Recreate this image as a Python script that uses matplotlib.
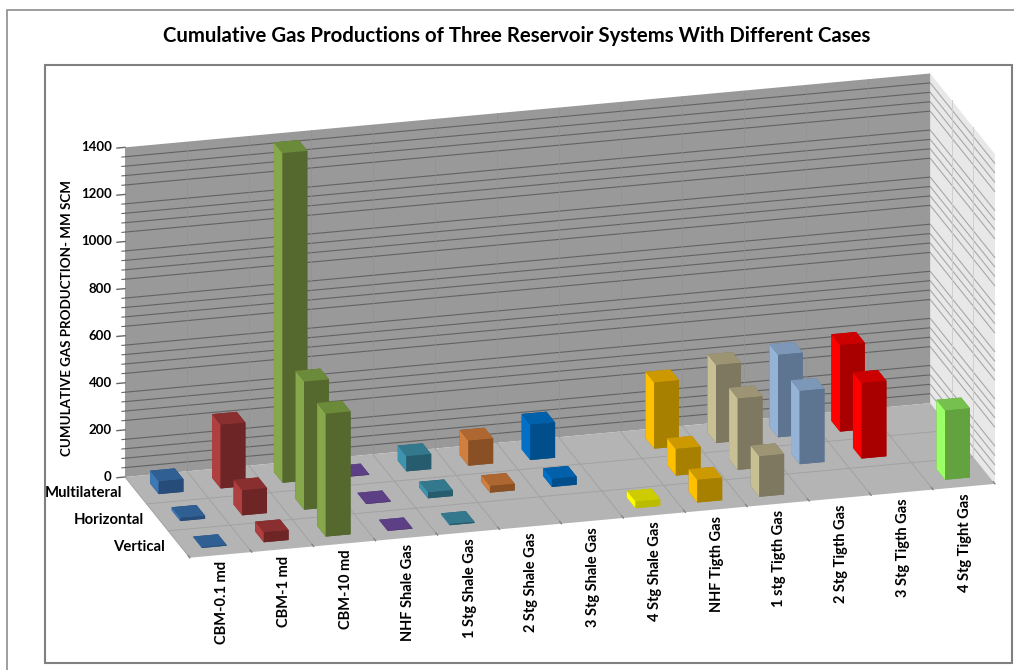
import matplotlib
matplotlib.use("Agg")
import matplotlib.pyplot as plt
from matplotlib.patches import Rectangle
from mpl_toolkits.mplot3d import proj3d

categories = ["CBM-0.1 md", "CBM-1 md", "CBM-10 md", "NHF Shale Gas", "1 Stg Shale Gas",
              "2 Stg Shale Gas", "3 Stg Shale Gas", "4 Stg Shale Gas", "NHF Tigth Gas",
              "1 stg Tigth Gas", "2 Stg Tigth Gas", "3 Stg Tigth Gas", "4 Stg Tight Gas"]
rows = ["Vertical", "Horizontal", "Multilateral"]
vertical =     [3, 42, 522, 2, 5, 0, 0, 28, 96, 172, 0, 0, 294]
horizontal =   [13, 106, 544, 2, 25, 28, 34, 0, 113, 303, 311, 321, 0]
multilateral = [54, 270, 1400, 2, 64, 106, 150, 0, 281, 331, 350, 368, 0]
# (left side, top, front) shades of each category
face_colors = [
    ("#3E78B5", "#2F5F93", "#284C7A"), ("#B04040", "#8A2F2F", "#6E2525"),
    ("#86A84A", "#6B8A3A", "#55692F"), ("#6A4A96", "#5D3F86", "#4F3572"),
    ("#3E94AE", "#33788C", "#275C6E"), ("#D07F3E", "#AE6730", "#8A5025"),
    ("#0070C8", "#0060AA", "#004F8C"), ("#FFFF00", "#CCCC00", "#BBBB00"),
    ("#FFC000", "#CC9A00", "#A88000"), ("#C8BF95", "#9C9472", "#7F7860"),
    ("#95B3D7", "#7C97B8", "#5E7591"), ("#FF0000", "#CC0000", "#A80000"),
    ("#9BFF66", "#75C04F", "#62A33F"),
]
major_ticks = [0, 200, 400, 600, 800, 1000, 1200, 1400]
minor_ticks = [z for z in range(0, 1401, 40) if z % 200 != 0]

plt.rcParams['font.family'] = ['Lato', 'DejaVu Sans']
W, H = 1014, 670
fig = plt.figure(figsize=(W / 100, H / 100), dpi=100, facecolor='white')
SIDE = 1400
ax = fig.add_axes([(W / 2 - SIDE / 2) / W, (H / 2 - SIDE / 2) / H, SIDE / W, SIDE / H],
                  projection='3d', computed_zorder=False)
ax.patch.set_visible(False)
ax.set_proj_type('ortho')
ax.view_init(elev=19.76, azim=-105.18)
ax.set_xlim(0, 13)
ax.set_ylim(0, 3)
ax.set_zlim(0, 1400)
aspect = (836, 248, 351)
ax.set_box_aspect(aspect, zoom=1)

# panes
ax.xaxis.set_pane_color("#E8E8E8")
ax.yaxis.set_pane_color("#999999")
ax.zaxis.set_pane_color("#B4B4B4")
for a in (ax.xaxis, ax.yaxis, ax.zaxis):
    a.pane.set_edgecolor('none')
    a.line.set_color('none')
    a._axinfo['tick']['inward_factor'] = 0
    a._axinfo['tick']['outward_factor'] = 0
ax.grid(False)

# ticks and labels
ax.set_xticks([i + 0.5 for i in range(13)])
ax.set_xticklabels(categories, rotation=90, ha='center', va='top', fontsize=10.5, fontweight='bold')
ax.set_yticks([0.5, 1.5, 2.5])
ax.set_yticklabels(rows, ha='right', va='baseline', fontsize=10.7, fontweight='bold')
ax.set_zticks(major_ticks)
ax.set_zticklabels([str(v) for v in major_ticks], ha='right', va='center', fontsize=9.5, fontweight='bold')
ax.tick_params(axis='x', pad=0)
ax.tick_params(axis='y', pad=1)
ax.tick_params(axis='z', pad=0)

# grid lines
wall = dict(lw=0.8, zorder=1, solid_capstyle='butt')
for z in minor_ticks:
    ax.plot([0, 13], [3, 3], [z, z], color="#626262", **wall)
    ax.plot([13, 13], [3, 0], [z, z], color="#A8A8A8", **wall)
    ax.plot([-0.05, 0], [3, 3], [z, z], color="#666666", lw=0.8, zorder=1)
for z in major_ticks:
    ax.plot([-0.13, 0], [3, 3], [z, z], color="#666666", lw=1.0, zorder=1)
for i in range(14):
    if 0 < i < 13:
        ax.plot([i, i], [3, 3], [0, 1400], color="#919191", lw=0.5, zorder=1)
    if i < 13:
        ax.plot([i, i], [0, 3], [0, 0], color="#A2A2A2", lw=0.7, zorder=1)
    ax.plot([i, i], [0, 0.08], [0, 0], color="#808080", lw=0.9, zorder=1)
for r in (1, 2):
    ax.plot([0, 13], [r, r], [0, 0], color="#A2A2A2", lw=0.7, zorder=1)
    ax.plot([13, 13], [r, r], [0, 1400], color="#CFCFCF", lw=0.7, zorder=1)

# bars, drawn from the back row to the front
series = [vertical, horizontal, multilateral]
order = 10
for r in (2, 1, 0):
    for i in range(12, -1, -1):
        v = series[r][i]
        if v <= 0:
            continue
        left, top, front = face_colors[i]
        ax.bar3d(i + 0.3, r + 0.3, 0, 0.4, 0.4, v, shade=False,
                 color=[front, top, front, front, left, front],
                 edgecolor=None, linewidth=0, zorder=order)
        order += 1

# fit the projected box to its place in the picture
def px(x, y, z):
    xs, ys, _ = proj3d.proj_transform(x, y, z, ax.get_proj())
    return ax.transData.transform((xs, ys))

fig.canvas.draw()
a0, b0 = px(0, 3, 0), px(13, 0, 0)
scale = (995 - 125) / (b0[0] - a0[0])
ax.set_box_aspect(aspect, zoom=scale)
fig.canvas.draw()
a1 = px(0, 3, 0)
pos = ax.get_position(original=True)
ax.set_position([pos.x0 + (125 - a1[0]) / W, pos.y0 + ((H - 477) - a1[1]) / H, pos.width, pos.height])

# frames and texts
fig.add_artist(Rectangle((6.5 / W, -0.1), 1.2, 1 - 10.5 / H + 0.1, transform=fig.transFigure,
                         fill=False, ec="#8C8C8C", lw=1.2))
fig.add_artist(Rectangle((45 / W, 1 - 663 / H), (1012 - 45) / W, (663 - 65) / H,
                         transform=fig.transFigure, fill=False, ec="#808080", lw=1.5))
fig.text(517 / W, 1 - 36.5 / H, "Cumulative Gas Productions of Three Reservoir Systems With Different Cases",
         ha='center', va='center', fontsize=14.7, fontweight='bold', color='black')
fig.text(67.5 / W, 1 - 318 / H, "CUMULATIVE GAS PRODUCTION- MM SCM", rotation=90,
         ha='center', va='center', fontsize=9.6, fontweight='bold', color='black')

fig.savefig("out.png", dpi=100, facecolor='white')
